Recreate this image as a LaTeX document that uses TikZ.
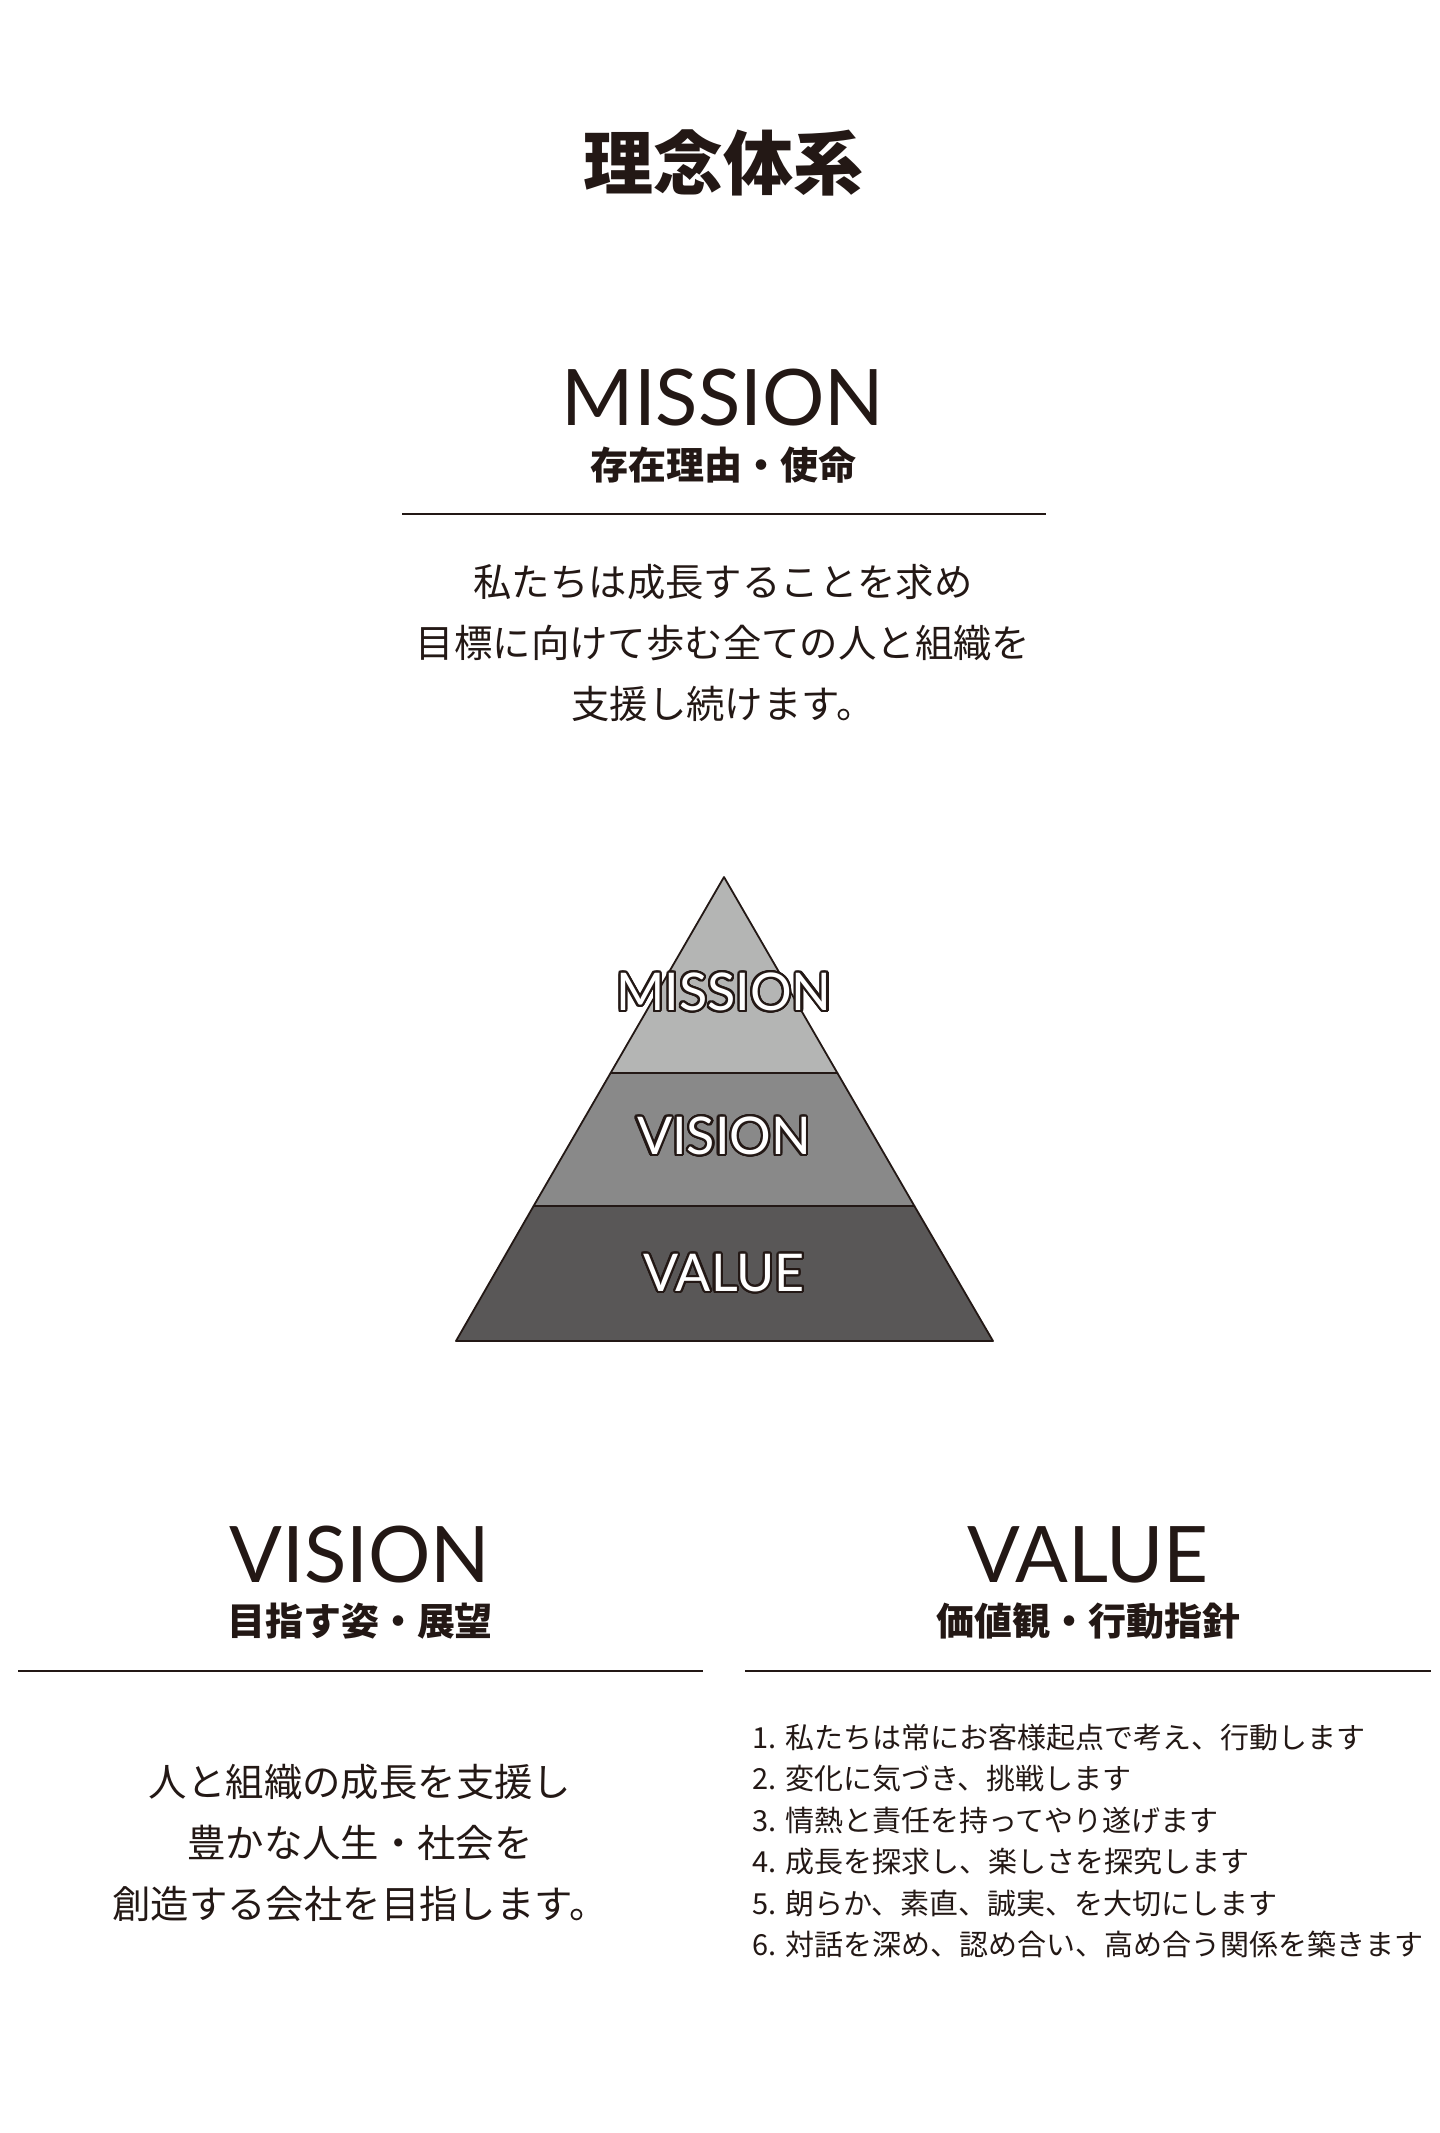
\documentclass[tikz,border=0pt]{standalone}
\usepackage{fontspec}
\setmainfont{Noto Sans CJK JP}
\newfontfamily\headfont{Lato}
\usepackage{xcolor}
\usepackage[copies]{contour}
\usetikzlibrary{positioning}

\definecolor{ink}{HTML}{231815}
\definecolor{tierA}{HTML}{B4B5B4}
\definecolor{tierB}{HTML}{898989}
\definecolor{tierC}{HTML}{595757}
\contourlength{1.1pt}
\contournumber{24}
\newcommand{\outlined}[1]{\contour{ink}{\color{white}#1}}

\begin{document}
\begin{tikzpicture}[
        x=0.5pt, y=-0.5pt,
        text=ink,
        title/.style={font=\fontsize{35pt}{42pt}\bfseries\selectfont},
        head/.style={anchor=base, font=\headfont\fontsize{39pt}{44pt}\selectfont},
        sub/.style={font=\fontsize{19pt}{23pt}\bfseries\selectfont},
        body/.style={align=center, font=\fontsize{19.2pt}{30.5pt}\selectfont},
        rule/.style={draw=ink, line width=1.1pt},
        tier/.style={draw=ink, line width=0.9pt, line join=round},
        tierlabel/.style={font=\headfont\fontsize{26pt}{30pt}\selectfont}
    ]
        \useasboundingbox (0,0) rectangle (1440,2133);

        % title
        \node[title] (title) at (723,163) {理念体系};

        % mission block
        \node[head] (mhead) at (723,425) {MISSION};
        \node[sub] (msub) at (723,465) {存在理由・使命};
        \coordinate (ml) at (402,514);
        \coordinate (mr) at (1046,514);
        \draw[rule] (ml) -- (mr);
        \node[body] (mtext) at (723,643) {私たちは成長することを求め\\目標に向けて歩む全ての人と組織を\\支援し続けます。};

        % pyramid
        \coordinate (apex) at (724,877);
        \coordinate (bl) at (456,1341);
        \coordinate (br) at (993,1341);
        \coordinate (al) at (610.6,1073);
        \coordinate (ar) at (837.4,1073);
        \coordinate (vl) at (533.6,1206);
        \coordinate (vr) at (914.4,1206);
        \filldraw[tier, fill=tierC] (vl) -- (vr) -- (br) -- (bl) -- cycle;
        \filldraw[tier, fill=tierB] (al) -- (ar) -- (vr) -- (vl) -- cycle;
        \filldraw[tier, fill=tierA] (apex) -- (ar) -- (al) -- cycle;
        \node[tierlabel] (pmission) at (724,993) {\outlined{MISSION}};
        \node[tierlabel] (pvision) at (724,1137) {\outlined{VISION}};
        \node[tierlabel] (pvalue) at (724,1274) {\outlined{VALUE}};

        % vision block
        \node[head] (vhead) at (360,1582) {VISION};
        \node[sub] (vsub) at (360,1621) {目指す姿・展望};
        \coordinate (vll) at (18,1671);
        \coordinate (vlr) at (703,1671);
        \draw[rule] (vll) -- (vlr);
        \node[body] (vtext) at (360,1843) {人と組織の成長を支援し\\豊かな人生・社会を\\創造する会社を目指します。};

        % value block
        \node[head] (vahead) at (1088,1582) {VALUE};
        \node[sub] (vasub) at (1088,1621) {価値観・行動指針};
        \coordinate (val) at (745,1671);
        \coordinate (var) at (1431,1671);
        \draw[rule] (val) -- (var);
        \node[anchor=west, align=left, inner sep=0pt, font=\fontsize{14.5pt}{20.7pt}\selectfont] (vatext) at (752,1841)
            {1. 私たちは常にお客様起点で考え、行動します\\
             2. 変化に気づき、挑戦します\\
             3. 情熱と責任を持ってやり遂げます\\
             4. 成長を探求し、楽しさを探究します\\
             5. 朗らか、素直、誠実、を大切にします\\
             6. 対話を深め、認め合い、高め合う関係を築きます};
    \end{tikzpicture}
\end{document}
